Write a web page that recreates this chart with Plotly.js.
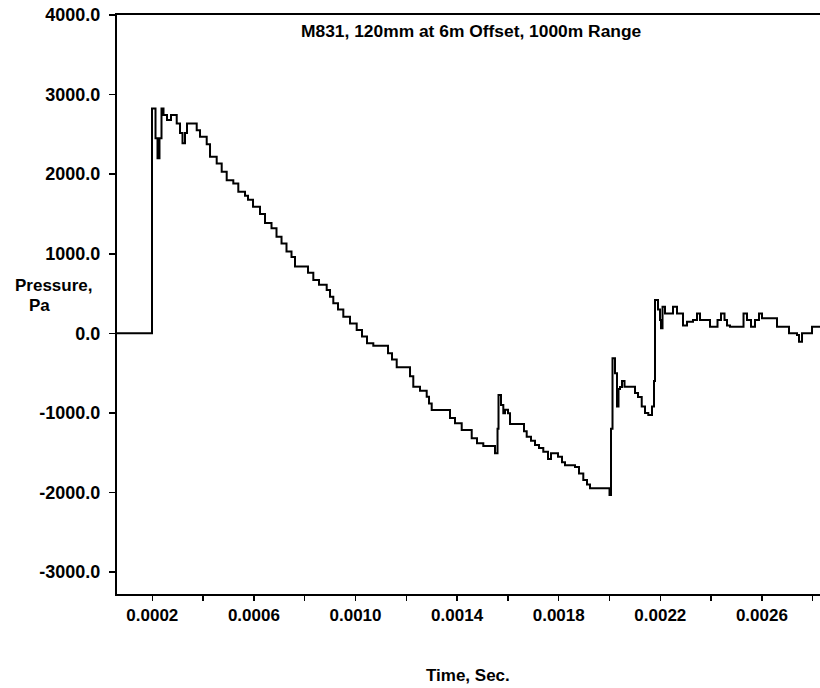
<!DOCTYPE html>
<html>
<head>
<meta charset="utf-8">
<script src="https://cdn.plot.ly/plotly-3.0.1.min.js"></script>
<style>html,body{margin:0;padding:0;background:#fff;}#chart{width:820px;height:688px;}</style>
</head>
<body>
<div id="chart"></div>
<script>
// Time (s) and pressure (Pa) at each step change of the recorded trace
const timeS = [
  0.0000610, 0.0001988, 0.0002126, 0.0002205, 0.0002283, 0.0002362, 0.0002441, 0.0002579, 0.0002736,
  0.0002961, 0.0003091, 0.0003189, 0.0003287, 0.0003366, 0.0003748, 0.0003878, 0.0004142, 0.0004272,
  0.0004535, 0.0004732, 0.0004929, 0.0005189, 0.0005386, 0.0005650, 0.0005768, 0.0005965, 0.0006240,
  0.0006437, 0.0006693, 0.0006890, 0.0007087, 0.0007283, 0.0007480, 0.0007618, 0.0008130, 0.0008339,
  0.0008563, 0.0008866, 0.0008996, 0.0009126, 0.0009311, 0.0009520, 0.0009783, 0.0010047, 0.0010256,
  0.0010453, 0.0010701, 0.0011280, 0.0011437, 0.0011622, 0.0012146, 0.0012275, 0.0012539, 0.0012803,
  0.0012894, 0.0013000, 0.0013720, 0.0013917, 0.0014181, 0.0014575, 0.0014783, 0.0015031, 0.0015492,
  0.0015591, 0.0015630, 0.0015728, 0.0015819, 0.0015886, 0.0016004, 0.0016083, 0.0016634, 0.0016740,
  0.0016909, 0.0017067, 0.0017224, 0.0017393, 0.0017579, 0.0017697, 0.0017972, 0.0018130, 0.0018248,
  0.0018642, 0.0018799, 0.0018968, 0.0019114, 0.0019232, 0.0020000, 0.0020059, 0.0020118, 0.0020216,
  0.0020295, 0.0020354, 0.0020413, 0.0020492, 0.0020591, 0.0021004, 0.0021122, 0.0021268, 0.0021397,
  0.0021527, 0.0021673, 0.0021752, 0.0021791, 0.0021909, 0.0021988, 0.0022027, 0.0022087, 0.0022185,
  0.0022500, 0.0022657, 0.0022894, 0.0023051, 0.0023287, 0.0023445, 0.0023563, 0.0023956, 0.0024252,
  0.0024389, 0.0024527, 0.0024626, 0.0024744, 0.0025276, 0.0025413, 0.0025571, 0.0025728, 0.0025885,
  0.0026003, 0.0026594, 0.0027067, 0.0027382, 0.0027461, 0.0027579, 0.0027973, 0.0028287
];
const pressurePa = [
  0, 2826, 2450, 2200, 2450, 2826, 2745, 2680, 2745,
  2638, 2516, 2390, 2516, 2638, 2553, 2469, 2377, 2218,
  2135, 2030, 1925, 1884, 1778, 1730, 1680, 1590, 1500,
  1385, 1320, 1215, 1130, 1030, 960, 840, 760, 670,
  610, 545, 460, 377, 300, 209, 125, 41, -40,
  -125, -155, -250, -330, -425, -540, -670, -720, -796,
  -880, -963, -1063, -1130, -1214, -1319, -1380, -1415, -1508,
  -1200, -775, -900, -1004, -960, -1004, -1140, -1230, -1298,
  -1350, -1403, -1440, -1487, -1580, -1507, -1550, -1620, -1658,
  -1680, -1760, -1842, -1900, -1946, -2030, -1200, -314, -500,
  -920, -700, -675, -600, -670, -750, -800, -920, -1000,
  -1025, -920, -600, 418, 300, 168, 63, 335, 250,
  335, 250, 100, 145, 167, 250, 167, 84, 167,
  250, 167, 100, 84, 250, 167, 84, 167, 250,
  190, 84, 0, -20, -105, 0, 84, 84
];
const xTickVals = [0.0002, 0.0004, 0.0006, 0.0008, 0.0010, 0.0012, 0.0014, 0.0016, 0.0018, 0.0020, 0.0022, 0.0024, 0.0026, 0.0028];
const xTickText = ['0.0002', '', '0.0006', '', '0.0010', '', '0.0014', '', '0.0018', '', '0.0022', '', '0.0026', ''];
const yTickVals = [-3000, -2000, -1000, 0, 1000, 2000, 3000, 4000];
const yTickText = ['-3000.0', '-2000.0', '-1000.0', '0.0', '1000.0', '2000.0', '3000.0', '4000.0'];
const chartTitle = 'M831, 120mm at 6m Offset, 1000m Range';
const xTitle = 'Time, Sec.';
const yTitleLines = ['Pressure,', 'Pa'];

const FONT = 'Liberation Sans, Arial, Helvetica, sans-serif';

const layout = {
  width: 820, height: 688,
  margin: {l: 117, r: 0, t: 15, b: 94, pad: 0},
  paper_bgcolor: '#fff', plot_bgcolor: '#fff',
  showlegend: false,
  xaxis: {
    range: [0.000061, 0.0028287],
    tickmode: 'array', tickvals: xTickVals, ticktext: xTickText,
    ticks: 'outside', ticklen: 5, tickwidth: 1.5, tickcolor: '#000',
    showline: true, linewidth: 2, linecolor: '#000', mirror: true,
    showgrid: false, zeroline: false,
    tickfont: {family: FONT, size: 17, weight: 'bold', color: '#000'}
  },
  yaxis: {
    range: [-3275, 4000],
    tickmode: 'array', tickvals: yTickVals, ticktext: yTickText,
    ticks: 'outside', ticklen: 6, tickwidth: 1.5, tickcolor: '#000',
    ticklabelstandoff: 5,
    showline: true, linewidth: 2, linecolor: '#000',
    showgrid: false, zeroline: false,
    tickfont: {family: FONT, size: 18, weight: 'bold', color: '#000'}
  },
  annotations: [
    {text: chartTitle, xref: 'paper', yref: 'paper', x: 0.5046, y: 0.9724, xanchor: 'center', yanchor: 'middle', showarrow: false,
     font: {family: FONT, size: 17.4, weight: 'bold', color: '#000'}},
    {text: yTitleLines[0], xref: 'paper', yref: 'paper', x: -0.1475, y: 0.532, xanchor: 'left', yanchor: 'middle', showarrow: false,
     font: {family: FONT, size: 17, weight: 'bold', color: '#000'}},
    {text: yTitleLines[1], xref: 'paper', yref: 'paper', x: -0.1285, y: 0.498, xanchor: 'left', yanchor: 'middle', showarrow: false,
     font: {family: FONT, size: 17, weight: 'bold', color: '#000'}},
    {text: xTitle, xref: 'paper', yref: 'paper', x: 0.4986, y: -0.1399, xanchor: 'center', yanchor: 'middle', showarrow: false,
     font: {family: FONT, size: 17, weight: 'bold', color: '#000'}}
  ]
};

Plotly.newPlot('chart', [{
  x: timeS, y: pressurePa, type: 'scatter', mode: 'lines',
  line: {shape: 'hv', color: '#000', width: 2}, hoverinfo: 'skip'
}], layout, {staticPlot: true, displayModeBar: false});
</script>
</body>
</html>
